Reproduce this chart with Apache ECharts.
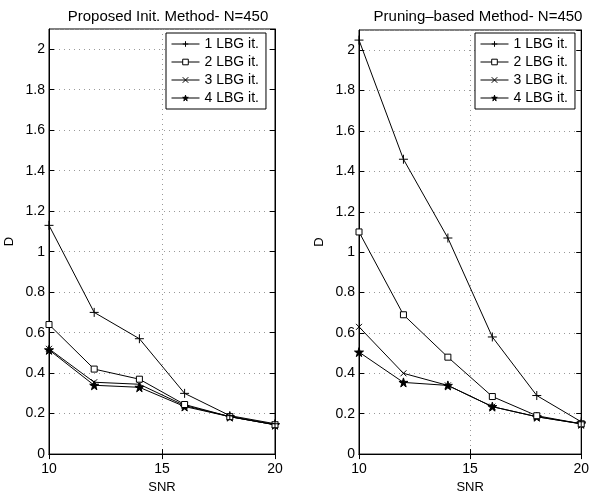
<!DOCTYPE html>
<html>
<head>
<meta charset="utf-8">
<script src="https://cdn.jsdelivr.net/npm/echarts@6/dist/echarts.min.js"></script>
<style>
  html, body { margin: 0; padding: 0; background: #fff; }
  #chart { width: 592px; height: 499px; }
</style>
</head>
<body>
<div id="chart"></div>
<script>
// SNR 取值
var snr = [10, 12, 14, 16, 18, 20];
var seriesNames = ['1 LBG it.', '2 LBG it.', '3 LBG it.', '4 LBG it.'];
var titles = ['Proposed Init. Method- N=450', 'Pruning\u2013based Method- N=450'];

// 左图：Proposed Init. Method
var propLBG1 = [1.13, 0.70, 0.57, 0.30, 0.19, 0.15];
var propLBG2 = [0.64, 0.42, 0.37, 0.245, 0.185, 0.145];
var propLBG3 = [0.52, 0.355, 0.345, 0.24, 0.185, 0.145];
var propLBG4 = [0.515, 0.34, 0.33, 0.235, 0.185, 0.145];

// 右图：Pruning-based Method
var pruneLBG1 = [2.05, 1.46, 1.07, 0.58, 0.29, 0.16];
var pruneLBG2 = [1.10, 0.69, 0.48, 0.285, 0.19, 0.15];
var pruneLBG3 = [0.63, 0.40, 0.34, 0.235, 0.185, 0.15];
var pruneLBG4 = [0.505, 0.355, 0.34, 0.235, 0.185, 0.15];

var font = 'Liberation Sans, Arial, sans-serif';

var symbols = [
    {symbol: 'path://M5,0L5,10M0,5L10,5', size: 9, fill: 'none'},
    {symbol: 'rect', size: 6, fill: '#fff'},
    {symbol: 'path://M0,0L10,10M10,0L0,10', size: 6, fill: 'none'},
    {symbol: 'path://M50,0L61,35L98,35L68,57L79,91L50,70L21,91L32,57L2,35L39,35Z', size: 9, fill: '#000'}
];

function pairs(values){
    var out = [];
    for (var i = 0; i < snr.length; i++) {
        out.push([snr[i], values[i]]);
    }
    return out;
}

function makeSeries(idx, sets){
    var list = [];
    for (var k = 0; k < sets.length; k++) {
        list.push({
            name: seriesNames[k],
            type: 'line',
            xAxisIndex: idx * 2,
            yAxisIndex: idx * 2,
            data: pairs(sets[k]),
            symbol: symbols[k].symbol,
            symbolSize: symbols[k].size,
            showAllSymbol: true,
            lineStyle: {color: '#000', width: 1},
            itemStyle: {color: symbols[k].fill, borderColor: '#000', borderWidth: 1},
            emphasis: {disabled: true},
            z: 10 - k
        });
    }
    return list;
}

var grids = [
    {left: 49, top: 29, width: 226, height: 431},
    {left: 359, top: 30, width: 225, height: 431}
];

var dotted = {color: '#999', type: [1, 4], width: 1};

function xAxisCfg(idx){
    return {
        type: 'value', gridIndex: idx, min: 10, max: 20, interval: 5,
        name: 'SNR', nameLocation: 'middle', nameGap: 22,
        nameTextStyle: {fontFamily: font, fontSize: 13, color: '#000'},
        axisLine: {lineStyle: {color: '#000', width: 1}},
        axisTick: {inside: true, length: 5, lineStyle: {color: '#000'}},
        axisLabel: {fontFamily: font, fontSize: 14, color: '#000', margin: 8},
        splitLine: {show: true, lineStyle: dotted}
    };
}

function yAxisCfg(idx){
    return {
        type: 'value', gridIndex: idx, min: 0, max: 2.1, interval: 0.2,
        name: 'D', nameLocation: 'middle', nameGap: 33, nameRotate: 90,
        nameTextStyle: {fontFamily: font, fontSize: 13, color: '#000'},
        axisLine: {lineStyle: {color: '#000', width: 1}},
        axisTick: {inside: true, length: 5, lineStyle: {color: '#000'}},
        axisLabel: {fontFamily: font, fontSize: 14, color: '#000', margin: 4, showMaxLabel: false},
        splitLine: {show: true, lineStyle: dotted}
    };
}

// 上方/右侧的刻度（只画刻度线）
function topAxis(idx){
    return {
        type: 'value', gridIndex: idx, position: 'top', min: 10, max: 20, interval: 5,
        axisLine: {show: true, lineStyle: {color: '#000'}},
        axisTick: {inside: true, length: 5, lineStyle: {color: '#000'}},
        axisLabel: {show: false}, splitLine: {show: false}
    };
}
function rightAxis(idx){
    return {
        type: 'value', gridIndex: idx, position: 'right', min: 0, max: 2.1, interval: 0.2,
        axisLine: {show: true, lineStyle: {color: '#000'}},
        axisTick: {inside: true, length: 5, lineStyle: {color: '#000'}},
        axisLabel: {show: false}, splitLine: {show: false}
    };
}

function legendCfg(left){
    return {
        data: seriesNames,
        orient: 'vertical',
        left: left, top: 33,
        backgroundColor: '#fff',
        borderColor: '#000', borderWidth: 1, borderRadius: 0,
        padding: [4, 7, 4, 5],
        itemWidth: 28, itemHeight: 7, itemGap: 4,
        lineStyle: {width: 1},
        itemStyle: {borderWidth: 1},
        textStyle: {fontFamily: font, fontSize: 14, color: '#000'},
        selectedMode: false
    };
}

var chart = echarts.init(document.getElementById('chart'), null, {renderer: 'canvas'});
var option = {
    backgroundColor: '#fff',
    animation: false,
    title: [
        {text: titles[0], left: 163, top: 4, textAlign: 'center',
         textStyle: {fontFamily: font, fontSize: 15, fontWeight: 'normal', color: '#000'}},
        {text: titles[1], left: 473, top: 4, textAlign: 'center',
         textStyle: {fontFamily: font, fontSize: 15, fontWeight: 'normal', color: '#000'}}
    ],
    grid: grids.map(function(g){
        return {left: g.left, top: g.top, width: g.width, height: g.height,
                show: true, borderColor: '#000', borderWidth: 1, backgroundColor: 'transparent'};
    }),
    xAxis: [xAxisCfg(0), topAxis(0), xAxisCfg(1), topAxis(1)],
    yAxis: [yAxisCfg(0), rightAxis(0), yAxisCfg(1), rightAxis(1)],
    legend: [legendCfg(166), legendCfg(475)],
    series: makeSeries(0, [propLBG1, propLBG2, propLBG3, propLBG4])
        .concat(makeSeries(1, [pruneLBG1, pruneLBG2, pruneLBG3, pruneLBG4]))
};
chart.setOption(option);
</script>
</body>
</html>
